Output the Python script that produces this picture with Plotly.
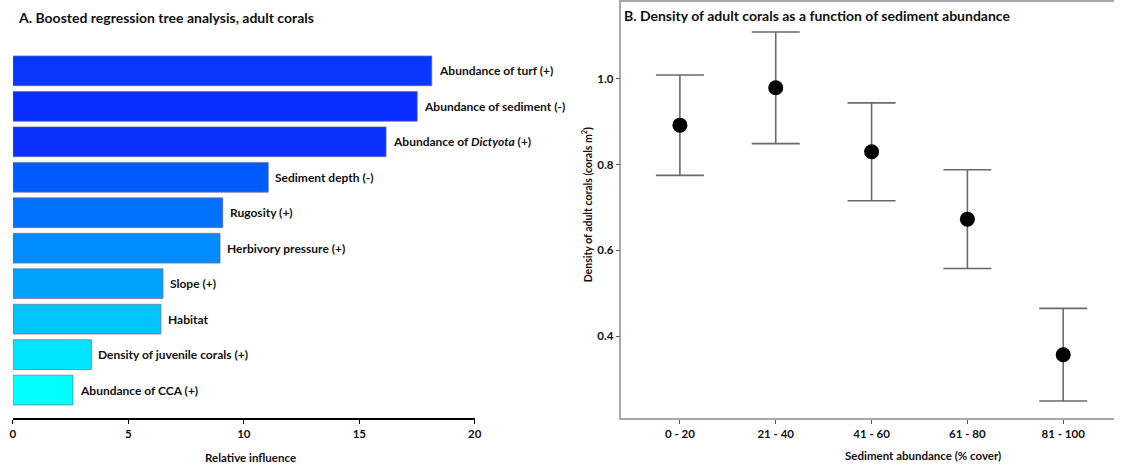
import plotly.graph_objects as go

# Panel A: relative influence of predictors (boosted regression trees)
predictors = [
    "Abundance of turf (+)",
    "Abundance of sediment (-)",
    "Abundance of <i>Dictyota</i> (+)",
    "Sediment depth (-)",
    "Rugosity (+)",
    "Herbivory pressure (+)",
    "Slope (+)",
    "Habitat",
    "Density of juvenile corals (+)",
    "Abundance of CCA (+)",
]
influence = [18.14, 17.51, 16.16, 11.06, 9.09, 8.97, 6.50, 6.41, 3.40, 2.60]
bar_colors = [
    "#0A37FF", "#0A2DFF", "#0A30FF", "#005CFF", "#0072FF",
    "#008CFF", "#00A4FF", "#00C3FF", "#00E5FF", "#00FFFF",
]
influence_ticks = [0, 5, 10, 15, 20]

# Panel B: adult coral density by sediment cover class
sediment_classes = ["0 - 20", "21 - 40", "41 - 60", "61 - 80", "81 - 100"]
density_mean = [0.892, 0.979, 0.830, 0.673, 0.357]
density_err = [0.117, 0.130, 0.114, 0.115, 0.108]
density_ticks = [0.4, 0.6, 0.8, 1.0]

W, H = 1123, 467
FONT = "Lato"
TXT = "#111111"


def px_x(p):
    return p / W


def px_y(p):
    return 1 - p / H


fig = go.Figure()

rows = list(range(len(predictors)))
fig.add_trace(go.Bar(
    x=influence, y=rows, orientation="h",
    marker=dict(color=bar_colors, line=dict(color="rgba(110,110,140,0.7)", width=1)),
    width=0.84, xaxis="x", yaxis="y", hoverinfo="skip",
))

cats = list(range(len(sediment_classes)))
fig.add_trace(go.Scatter(
    x=cats, y=density_mean, mode="markers",
    marker=dict(color="black", size=15),
    error_y=dict(type="data", array=density_err, color="#6a6a6a", thickness=1.6, width=24),
    xaxis="x2", yaxis="y2", hoverinfo="skip",
))

annotations = []
for name, val, r in zip(predictors, influence, rows):
    annotations.append(dict(
        x=val, y=r, xref="x", yref="y", text=name, showarrow=False,
        xanchor="left", yanchor="middle", xshift=5,
        font=dict(family=FONT, size=12, color=TXT, weight="bold"),
    ))

annotations += [
    dict(x=px_x(13), y=px_y(17), xref="paper", yref="paper",
         text="A. Boosted regression tree analysis, adult corals", showarrow=False,
         xanchor="left", yanchor="middle",
         font=dict(family=FONT, size=14, color=TXT, weight="bold")),
    dict(x=px_x(625), y=px_y(15), xref="paper", yref="paper",
         text="B. Density of adult corals as a function of sediment abundance", showarrow=False,
         xanchor="left", yanchor="middle",
         font=dict(family=FONT, size=14, color=TXT, weight="bold")),
    dict(x=px_x(250), y=px_y(457), xref="paper", yref="paper",
         text="Relative influence", showarrow=False,
         xanchor="center", yanchor="middle",
         font=dict(family=FONT, size=11.5, color=TXT, weight="bold")),
    dict(x=px_x(928), y=px_y(455), xref="paper", yref="paper",
         text="Sediment abundance (% cover)", showarrow=False,
         xanchor="center", yanchor="middle",
         font=dict(family=FONT, size=11.5, color=TXT, weight="bold")),
    dict(x=px_x(589), y=px_y(204), xref="paper", yref="paper",
         text="Density of adult corals (corals m<sup>2</sup>)", showarrow=False,
         textangle=-90, xanchor="center", yanchor="middle",
         font=dict(family=FONT, size=10.5, color=TXT, weight="bold")),
]

tick_font = dict(family=FONT, size=11.5, color=TXT, weight="bold")

fig.update_layout(
    width=W, height=H,
    margin=dict(l=0, r=0, t=0, b=0),
    paper_bgcolor="white", plot_bgcolor="white",
    showlegend=False,
    annotations=annotations,
    xaxis=dict(
        domain=[px_x(10), px_x(476)], range=[0, 20],
        tickvals=influence_ticks, ticks="outside", ticklen=4, tickcolor="#000",
        showline=True, linecolor="#000", linewidth=2,
        showgrid=False, zeroline=False, tickfont=tick_font,
    ),
    yaxis=dict(
        domain=[px_y(418), 1], range=[9.79, -1.97],
        showticklabels=False, showgrid=False, zeroline=False, showline=False,
    ),
    xaxis2=dict(
        domain=[px_x(624), px_x(1121)], range=[-0.61, 4.53], anchor="y2",
        tickvals=cats, ticktext=sediment_classes,
        ticks="outside", ticklen=4, tickcolor="#555",
        showline=True, linecolor="#a8a8a8", linewidth=1.5, mirror=True,
        showgrid=False, zeroline=False, tickfont=tick_font,
    ),
    yaxis2=dict(
        domain=[px_y(418), px_y(1)], range=[0.2093, 1.179], anchor="x2",
        tickvals=density_ticks, ticktext=["0.4", "0.6", "0.8", "1.0"],
        ticks="outside", ticklen=4, tickcolor="#555",
        showline=True, linecolor="#a8a8a8", linewidth=1.5,
        showgrid=False, zeroline=False, tickfont=tick_font,
    ),
)

fig.write_html("out.html")
